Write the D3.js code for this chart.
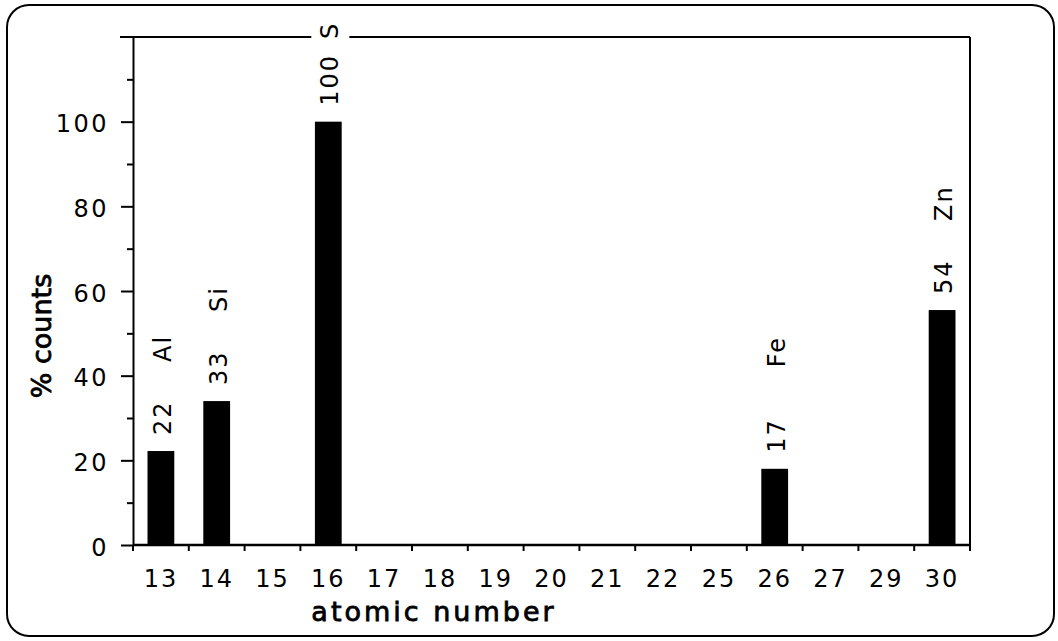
<!DOCTYPE html>
<html>
<head>
<meta charset="utf-8">
<script src="https://cdn.jsdelivr.net/npm/d3@7"></script>
<style>
  body { margin: 0; background: #fff; }
  svg text { font-family: "DejaVu Sans", sans-serif; fill: #000; }
</style>
</head>
<body>
<div id="chart"></div>
<script>
// x categories (atomic numbers shown on the axis)
const atomicNumbers = ["13","14","15","16","17","18","19","20","21","22","25","26","27","29","30"];
// peaks
const peakZ = ["13","14","16","26","30"];
const peakCounts = [22.2, 34, 100, 18, 55.5];   // bar heights
const peakLabels = ["22","33","100","17","54"];  // printed numbers
const peakElements = ["Al","Si","S","Fe","Zn"];
const yMajor = [0, 20, 40, 60, 80, 100];
const yMinor = [10, 30, 50, 70, 90, 110];

const W = 1058, H = 641;
const plotLeft = 133, plotRight = 970, plotTop = 37, plotBottom = 545;

let svg = d3.select("#chart").append("svg")
  .attr("width", W)
  .attr("height", H);

// outer rounded frame
svg.append("rect")
  .attr("x", 7).attr("y", 5)
  .attr("width", 1047).attr("height", 631)
  .attr("rx", 22).attr("ry", 22)
  .attr("fill", "none")
  .attr("stroke", "#000")
  .attr("stroke-width", 2);

let x = d3.scaleBand()
  .domain(atomicNumbers)
  .range([plotLeft, plotRight])
  .padding(0);

let y = d3.scaleLinear()
  .domain([0, 120])
  .range([plotBottom, plotTop]);

let barW = x.bandwidth() * 0.48;

// top and right frame of plot
svg.append("line")
  .attr("x1", plotLeft - 13).attr("x2", plotRight)
  .attr("y1", y(120)).attr("y2", y(120))
  .attr("stroke", "#000").attr("stroke-width", 2);
svg.append("line")
  .attr("x1", plotRight).attr("x2", plotRight)
  .attr("y1", y(120)).attr("y2", y(0))
  .attr("stroke", "#000").attr("stroke-width", 2);

// y axis major ticks + labels
let yAxis = svg.append("g")
  .attr("transform", "translate(" + plotLeft + ",0)")
  .call(d3.axisLeft(y).tickValues(yMajor).tickSize(12).tickPadding(12).tickSizeOuter(0));
yAxis.select(".domain").attr("stroke-width", 2);
yAxis.selectAll(".tick line").attr("stroke-width", 2);
yAxis.selectAll(".tick text")
  .attr("dy", "0.42em")
  .style("font-size", "24px")
  .style("letter-spacing", "2.5px")
  .attr("font-family", null);

// y axis minor ticks
let yMin = svg.append("g")
  .attr("transform", "translate(" + plotLeft + ",0)")
  .call(d3.axisLeft(y).tickValues(yMinor).tickSize(6).tickFormat("").tickSizeOuter(0));
yMin.select(".domain").remove();
yMin.selectAll(".tick line").attr("stroke-width", 2);

// bars
svg.selectAll(".bar")
  .data(peakZ)
  .enter()
  .append("rect")
  .attr("class", "bar")
  .attr("x", (d) => x(d) + (x.bandwidth() - barW) / 2)
  .attr("width", barW)
  .attr("y", (d, i) => y(peakCounts[i]))
  .attr("height", (d, i) => y(0) - y(peakCounts[i]))
  .attr("fill", "#000");

// x axis line + boundary ticks
svg.append("line")
  .attr("x1", plotLeft).attr("x2", plotRight)
  .attr("y1", y(0)).attr("y2", y(0))
  .attr("stroke", "#000").attr("stroke-width", 2.5);

let bounds = atomicNumbers.map(c => x(c)).concat([plotRight]);
svg.selectAll(".xtick")
  .data(bounds)
  .enter()
  .append("line")
  .attr("class", "xtick")
  .attr("x1", d => d).attr("x2", d => d)
  .attr("y1", y(0)).attr("y2", y(0) + 6)
  .attr("stroke", "#000").attr("stroke-width", 2);

let xAxis = svg.append("g")
  .attr("transform", "translate(0," + plotBottom + ")")
  .call(d3.axisBottom(x).tickSize(0).tickPadding(25));
xAxis.select(".domain").remove();
xAxis.selectAll(".tick text")
  .style("font-size", "24px")
  .style("letter-spacing", "2px")
  .attr("font-family", null);

// value labels (rotated)
peakZ.forEach(function(z, i) {
  let cx = x(z) + x.bandwidth() / 2 + 2;
  let barTop = y(peakCounts[i]);

  svg.append("text")
    .attr("transform", "translate(" + cx + "," + (barTop - 16) + ") rotate(-90)")
    .attr("text-anchor", "start")
    .attr("dominant-baseline", "central")
    .style("font-size", "24px")
    .style("letter-spacing", "2px")
    .text(peakLabels[i]);

  // element name, kept above a floor and clamped to the top line
  let eb = Math.max(Math.min(barTop - 89, y(42)), y(120) + 2);
  if (eb <= y(120) + 2) {
    svg.append("rect")
      .attr("x", cx - 19).attr("y", y(120) - 4)
      .attr("width", 38).attr("height", 8)
      .attr("fill", "#fff");
  }
  svg.append("text")
    .attr("transform", "translate(" + cx + "," + eb + ") rotate(-90)")
    .attr("text-anchor", "start")
    .attr("dominant-baseline", "central")
    .style("font-size", "24px")
    .style("letter-spacing", "2px")
    .text(peakElements[i]);
});

// axis titles
svg.append("text")
  .attr("x", 434).attr("y", 621)
  .attr("text-anchor", "middle")
  .attr("stroke", "#000")
  .attr("stroke-width", 0.8)
  .style("font-size", "27px")
  .style("letter-spacing", "3px")
  .text("atomic number");

svg.append("text")
  .attr("transform", "translate(41,336) rotate(-90)")
  .attr("text-anchor", "middle")
  .attr("dominant-baseline", "central")
  .attr("stroke", "#000")
  .attr("stroke-width", 0.8)
  .style("font-size", "27px")
  .text("% counts");
</script>
</body>
</html>
